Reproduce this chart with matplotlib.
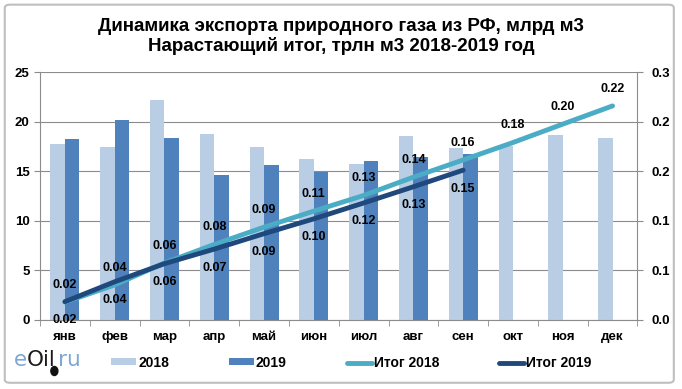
import matplotlib.pyplot as plt
import numpy as np
from matplotlib.patches import FancyBboxPatch, Ellipse

plt.rcParams['font.family'] = ['Liberation Sans', 'DejaVu Sans']

# данные
months = ['янв', 'фев', 'мар', 'апр', 'май', 'июн', 'июл', 'авг', 'сен', 'окт', 'ноя', 'дек']
exp_2018 = [17.75, 17.45, 22.2, 18.75, 17.45, 16.2, 15.75, 18.55, 17.4, 17.6, 18.65, 18.35]
exp_2019 = [18.25, 20.15, 18.35, 14.65, 15.65, 14.95, 16.05, 16.4, 16.75]
total_2018 = [0.0178, 0.0352, 0.0574, 0.0761, 0.0936, 0.1098, 0.1256, 0.1441, 0.1615, 0.1791, 0.1977, 0.2161]
total_2019 = [0.0183, 0.0384, 0.0567, 0.0714, 0.0870, 0.1020, 0.1180, 0.1344, 0.1512]
right_ticks = ['0.0', '0.1', '0.1', '0.2', '0.2', '0.3']

c_light = '#B9CDE5'
c_dark = '#4F81BD'
c_line18 = '#4BACC6'
c_line19 = '#1F497D'
c_grid = '#8C8C8C'

fig = plt.figure(figsize=(6.82, 3.89), dpi=100)
fig.patches.append(FancyBboxPatch((0.007, 0.016), 0.981, 0.972, boxstyle='round,pad=0,rounding_size=0.008',
                                  transform=fig.transFigure, fill=False, ec='#BFBFBF', lw=1.5))

ax = fig.add_axes([0.0587, 0.178, 0.876, 0.636])
x = np.arange(len(months))
w = 0.29
b1 = ax.bar(x - w / 2, exp_2018, w, color=c_light, label='2018', zorder=2)
b2 = ax.bar(x[:len(exp_2019)] + w / 2, exp_2019, w, color=c_dark, label='2019', zorder=2)

ax.set_xlim(-0.5, 11.5)
ax.set_ylim(0, 25)
ax.set_yticks(range(0, 26, 5))
ax.yaxis.grid(True, color=c_grid, lw=0.8, zorder=0)
ax.set_xticks(x)
ax.set_xticklabels(months, fontsize=9.5, fontweight='bold')
ax.set_xticks(np.arange(-0.5, 12, 1), minor=True)
ax.tick_params(axis='x', which='major', length=0, pad=8)
ax.tick_params(axis='x', which='minor', length=4, color=c_grid, direction='out')
ax.tick_params(axis='y', length=4, color=c_grid, pad=3.5, labelsize=9.5)
for lab in ax.get_yticklabels():
    lab.set_fontweight('bold')
for s in ['top', 'right']:
    ax.spines[s].set_visible(False)
for s in ['left', 'bottom']:
    ax.spines[s].set_color(c_grid)

ax2 = ax.twinx()
ax2.set_ylim(0, 0.25)
ax2.set_yticks(np.linspace(0, 0.25, 6))
ax2.set_yticklabels(right_ticks, fontsize=9.5, fontweight='bold')
ax2.tick_params(axis='y', length=4, color=c_grid, pad=6)
for s in ['top', 'left', 'bottom']:
    ax2.spines[s].set_visible(False)
ax2.spines['right'].set_color(c_grid)

l1, = ax2.plot(x, total_2018, color=c_line18, lw=3.5, solid_capstyle='round', label='Итог 2018', zorder=3)
l2, = ax2.plot(x[:len(total_2019)], total_2019, color=c_line19, lw=3.5, solid_capstyle='round', label='Итог 2019', zorder=4)

for xi, v in zip(x, total_2018):
    ax2.annotate(f'{v:.2f}', (xi, v), xytext=(0, 8), textcoords='offset points',
                 ha='center', va='bottom', fontsize=9, fontweight='bold')
for xi, v in zip(x, total_2019):
    ax2.annotate(f'{v:.2f}', (xi, v), xytext=(0, -9), textcoords='offset points',
                 ha='center', va='top', fontsize=9, fontweight='bold')

fig.text(0.5, 0.906, 'Динамика экспорта природного газа из РФ, млрд м3\nНарастающий итог, трлн м3 2018-2019 год',
         ha='center', va='center', fontsize=13.5, fontweight='bold', linespacing=1.1)

leg = fig.legend([b1, b2, l1, l2], ['2018', '2019', 'Итог 2018', 'Итог 2019'], loc='center left',
                 bbox_to_anchor=(0.163, 0.067), ncol=4, frameon=False,
                 prop={'size': 10, 'weight': 'bold'},
                 handlelength=1.8, handleheight=0.4, handletextpad=0.15, columnspacing=4.3,
                 borderaxespad=0, borderpad=0)

# логотип
fig.canvas.draw()
r = fig.canvas.get_renderer()
xpos = 14
drop_x = None
for part, col in [('e', '#7FA7D3'), ('Oil', '#1A1A1A'), ('ru', '#7FA7D3')]:
    t = fig.text(xpos / 682, 0.075, part, color=col, fontsize=15.5, family='DejaVu Sans',
                 va='center', ha='left')
    xpos = t.get_window_extent(r).x1 + (3 if part == 'Oil' else -0.5)
    if part == 'Oil':
        drop_x = xpos - 4
fig.patches.append(Ellipse((drop_x / 682, 1 - 371 / 389), 7 / 682, 9 / 389,
                           transform=fig.transFigure, color='#111111'))

fig.savefig('out.png', dpi=100)
